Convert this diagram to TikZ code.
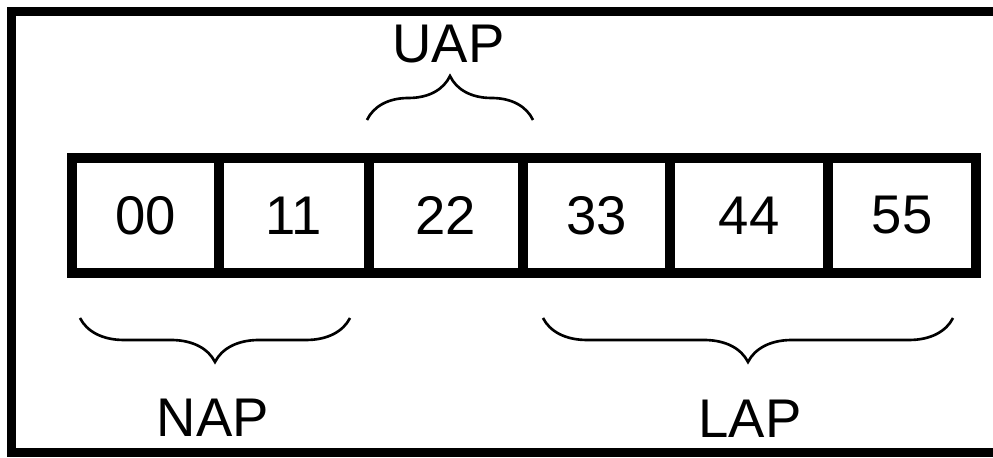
\documentclass[tikz,border=0pt]{standalone}
\usepackage{fontspec}
\setmainfont{Liberation Sans}
\usetikzlibrary{positioning}
\usetikzlibrary{decorations.pathreplacing}

\begin{document}
\begin{tikzpicture}[
    cell/.style={draw, line width=0.2cm, outer sep=0pt, inner sep=0pt,
      minimum height=2.3cm, font=\fontsize{31}{37}\selectfont},
    tag/.style={font=\fontsize{31}{37}\selectfont},
    curly/.style={decorate, decoration={brace, amplitude=0.88cm}, line width=1.5pt}
  ]
\useasboundingbox (0,0) rectangle (19.86,9.16);
\draw[line width=0.18cm] (19.86,8.93) -- (0.23,8.93) -- (0.23,0.1) -- (19.86,0.1);

\node[cell, minimum width=2.94cm] (c0) at (2.91,4.85) {00};
\node[cell, minimum width=3.00cm, right=0pt of c0] (c1) {11};
\node[cell, minimum width=3.08cm, right=0pt of c1] (c2) {22};
\node[cell, minimum width=2.94cm, right=0pt of c2] (c3) {33};
\node[cell, minimum width=3.16cm, right=0pt of c3] (c4) {44};
\node[cell, minimum width=2.96cm, right=0pt of c4] (c5) {55};

\coordinate (u1) at (7.34,6.76); \coordinate (u2) at (10.66,6.76);
\coordinate (n1) at (1.60,2.80); \coordinate (n2) at (7.00,2.80);
\coordinate (l1) at (10.86,2.80); \coordinate (l2) at (19.06,2.80);
\draw[curly] (u1) -- (u2);
\draw[curly] (n2) -- (n1);
\draw[curly] (l2) -- (l1);

\node[tag] (uap) at (8.97,8.28) {UAP};
\node[tag] (nap) at (4.26,0.81) {NAP};
\node[tag] (lap) at (15.0,0.78) {LAP};
\end{tikzpicture}
\end{document}
